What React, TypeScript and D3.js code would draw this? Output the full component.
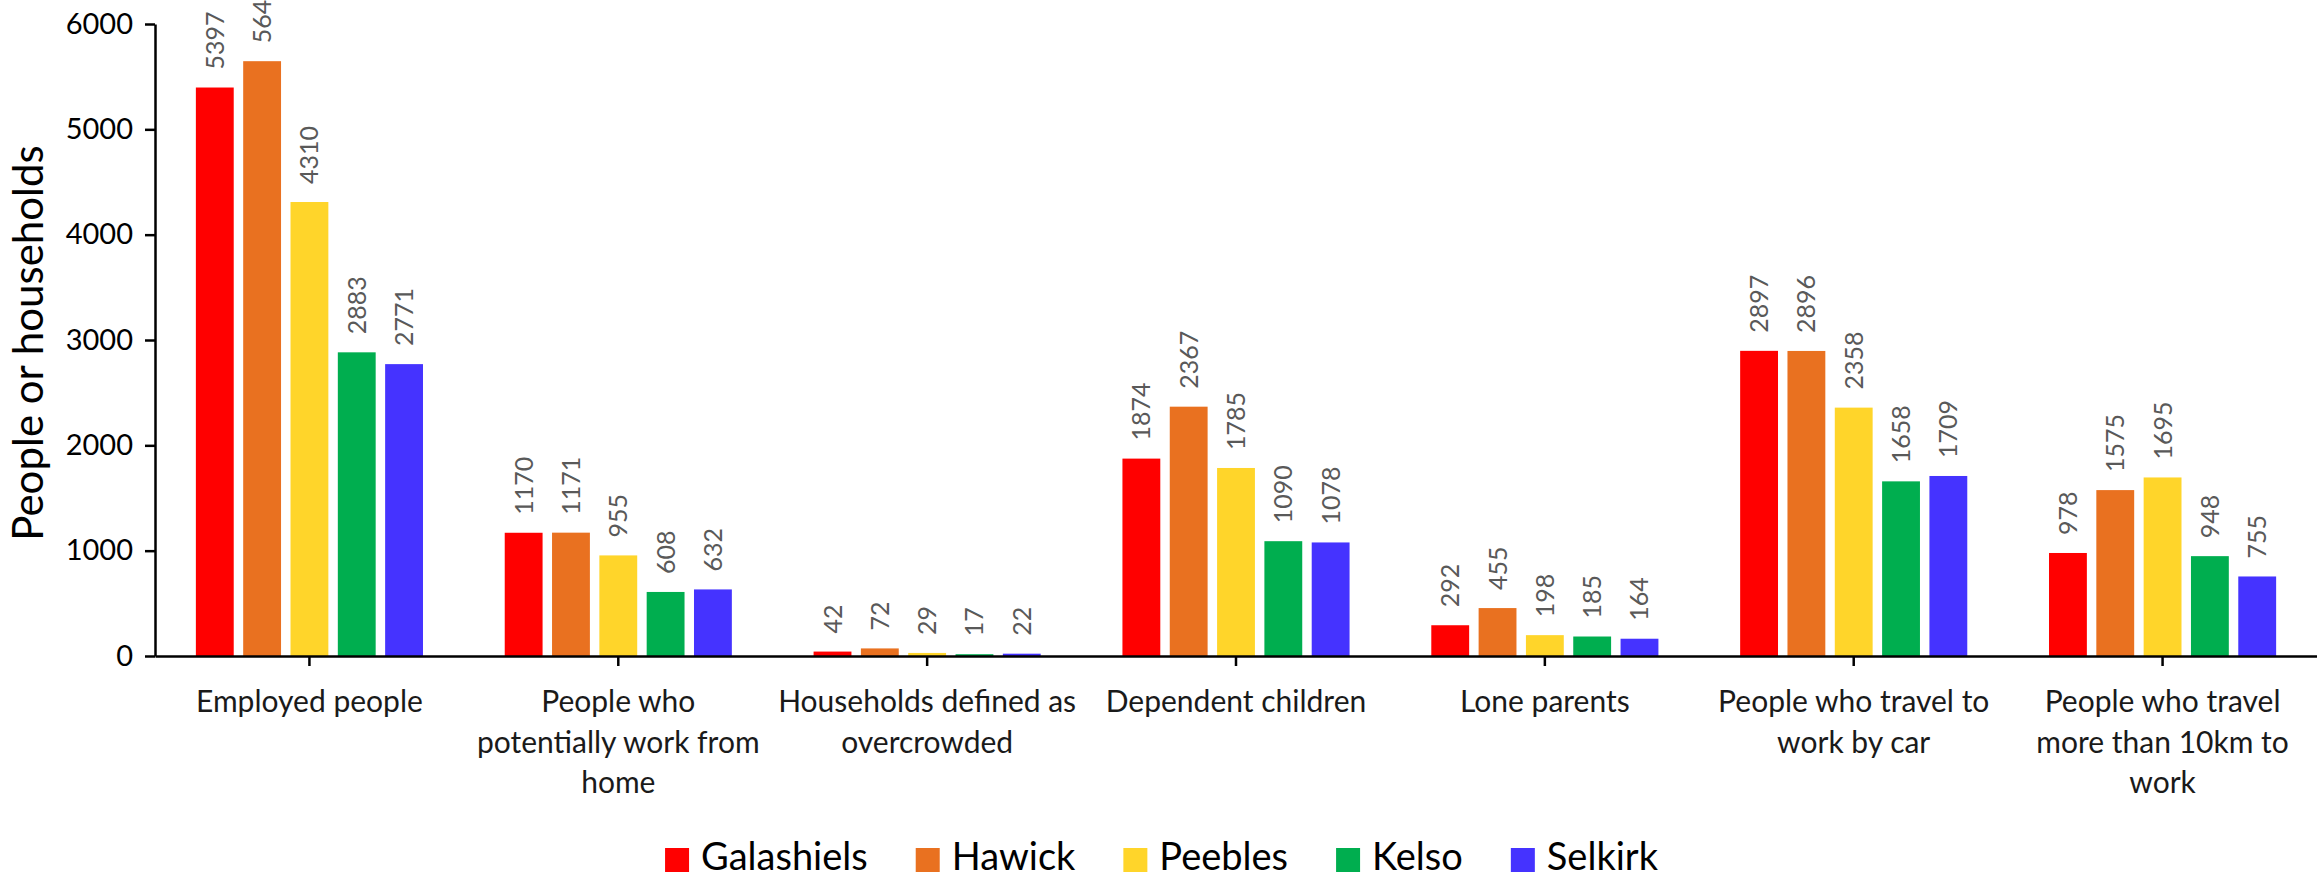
import React, { useEffect, useRef } from 'react'
import * as d3 from 'd3'

const categories = [
  'Employed people',
  'People who potentially work from home',
  'Households defined as overcrowded',
  'Dependent children',
  'Lone parents',
  'People who travel to work by car',
  'People who travel more than 10km to work'
]

// wrapped tick labels, same order as categories
const categoryLines = [
  ['Employed people'],
  ['People who', 'potentially work from', 'home'],
  ['Households defined as', 'overcrowded'],
  ['Dependent children'],
  ['Lone parents'],
  ['People who travel to', 'work by car'],
  ['People who travel', 'more than 10km to', 'work']
]

const towns = ['Galashiels', 'Hawick', 'Peebles', 'Kelso', 'Selkirk']

const galashiels = [5397, 1170, 42, 1874, 292, 2897, 978]
const hawick = [5647, 1171, 72, 2367, 455, 2896, 1575]
const peebles = [4310, 955, 29, 1785, 198, 2358, 1695]
const kelso = [2883, 608, 17, 1090, 185, 1658, 948]
const selkirk = [2771, 632, 22, 1078, 164, 1709, 755]

const townColors = ['#FF0000', '#E97120', '#FFD52A', '#00AE4F', '#4533FF']

const yTicks = [0, 1000, 2000, 3000, 4000, 5000, 6000]

const WIDTH = 2317
const HEIGHT = 879
const FONT = "Lato, 'Open Sans', sans-serif"

const App: React.FC = () => {
  const svgRef = useRef<SVGSVGElement>(null)

  useEffect(() => {
    if (!svgRef.current) return
    const svg = d3.select(svgRef.current)
    svg.selectAll('*').remove()

    const margin = { top: 24, right: 0, bottom: 223, left: 155 }
    const series = [galashiels, hawick, peebles, kelso, selkirk]
    const rows = categories.map((c, i) => ({
      category: c,
      values: towns.map((t, j) => ({ town: t, value: series[j][i] }))
    }))

    const x0 = d3.scaleBand()
      .domain(categories)
      .range([margin.left, WIDTH - margin.right])
      .padding(0)

    // bars take roughly 77% of each category slot
    const bw = x0.bandwidth()
    const span = bw * 0.766
    const x1 = d3.scaleBand()
      .domain(towns)
      .range([(bw - span) / 2, (bw + span) / 2])
      .paddingInner(0.2)
      .paddingOuter(0.1)

    const y = d3.scaleLinear()
      .domain([0, 6000])
      .range([HEIGHT - margin.bottom, margin.top])

    const color = d3.scaleOrdinal<string, string>().domain(towns).range(townColors)

    // Bars
    const groups = svg.append('g')
      .selectAll('g')
      .data(rows)
      .enter()
      .append('g')
      .attr('transform', d => `translate(${x0(d.category)},0)`)

    groups.selectAll('rect')
      .data(d => d.values)
      .enter()
      .append('rect')
      .attr('x', d => x1(d.town)!)
      .attr('width', x1.bandwidth())
      .attr('y', d => y(d.value))
      .attr('height', d => y(0) - y(d.value))
      .attr('fill', d => color(d.town))

    // Value labels, rotated (the tallest one runs off the top, as in the source)
    groups.selectAll('text')
      .data(d => d.values)
      .enter()
      .append('text')
      .attr('transform', d => `translate(${x1(d.town)! + x1.bandwidth() / 2},${y(d.value) - 18}) rotate(-90)`)
      .attr('dy', '0.36em')
      .attr('text-anchor', 'start')
      .attr('font-family', FONT)
      .attr('font-size', 25)
      .attr('fill', '#595959')
      .text(d => d.value)

    // Y axis
    const yAxis = svg.append('g')
      .attr('transform', `translate(${margin.left},0)`)
      .call(d3.axisLeft(y).tickValues(yTicks).tickSize(10).tickSizeOuter(0).tickPadding(12).tickFormat(d3.format('d')))
    yAxis.select('.domain').attr('stroke', '#000').attr('stroke-width', 2.5)
    yAxis.selectAll('.tick line').attr('stroke', '#000').attr('stroke-width', 2.5)
    yAxis.selectAll('.tick text')
      .attr('font-family', FONT)
      .attr('font-size', 29)
      .attr('fill', '#000')

    // X axis
    const xAxis = svg.append('g')
      .attr('transform', `translate(0,${y(0)})`)
      .call(d3.axisBottom(x0).tickSize(10).tickSizeOuter(0).tickFormat(() => ''))
    xAxis.select('.domain').attr('stroke', '#000').attr('stroke-width', 2.5)
    xAxis.selectAll('.tick line').attr('stroke', '#000').attr('stroke-width', 2.5)

    const catLabels = svg.append('g')
      .selectAll('text')
      .data(categories)
      .enter()
      .append('text')
      .attr('x', d => x0(d)! + bw / 2)
      .attr('y', y(0) + 56)
      .attr('text-anchor', 'middle')
      .attr('font-family', FONT)
      .attr('font-size', 30)
      .attr('fill', '#1a1a1a')

    catLabels.selectAll('tspan')
      .data(d => categoryLines[categories.indexOf(d)])
      .enter()
      .append('tspan')
      .attr('x', function () {
        return (this.parentNode as SVGTextElement).getAttribute('x')
      })
      .attr('dy', (d, i) => (i === 0 ? 0 : 40.5))
      .text(d => d)

    // Y axis title
    svg.append('text')
      .attr('transform', `translate(28,${(y(0) + y(6000)) / 2 + 3}) rotate(-90)`)
      .attr('dy', '0.36em')
      .attr('text-anchor', 'middle')
      .attr('font-family', FONT)
      .attr('font-size', 42)
      .attr('fill', '#000')
      .text('People or households')

    // Legend
    const legend = svg.append('g')
    const items = legend.selectAll('g')
      .data(towns)
      .enter()
      .append('g')

    items.append('rect')
      .attr('width', 24)
      .attr('height', 24)
      .attr('y', 848)
      .attr('fill', d => color(d))

    items.append('text')
      .attr('x', 36)
      .attr('y', 870)
      .attr('font-family', FONT)
      .attr('font-size', 38)
      .attr('fill', '#000')
      .text(d => d)

    let offset = 0
    const positions: number[] = []
    items.each(function () {
      positions.push(offset)
      const t = d3.select(this).select('text').node() as SVGTextElement
      offset += 36 + t.getComputedTextLength() + 48
    })
    const total = offset - 48
    const start = WIDTH / 2 + 3 - total / 2
    items.attr('transform', (d, i) => `translate(${start + positions[i]},0)`)
  }, [])

  return (
    <svg
      ref={svgRef}
      width={WIDTH}
      height={HEIGHT}
      style={{ position: 'absolute', left: 0, top: 0, background: '#fff' }}
    />
  )
}

export default App
